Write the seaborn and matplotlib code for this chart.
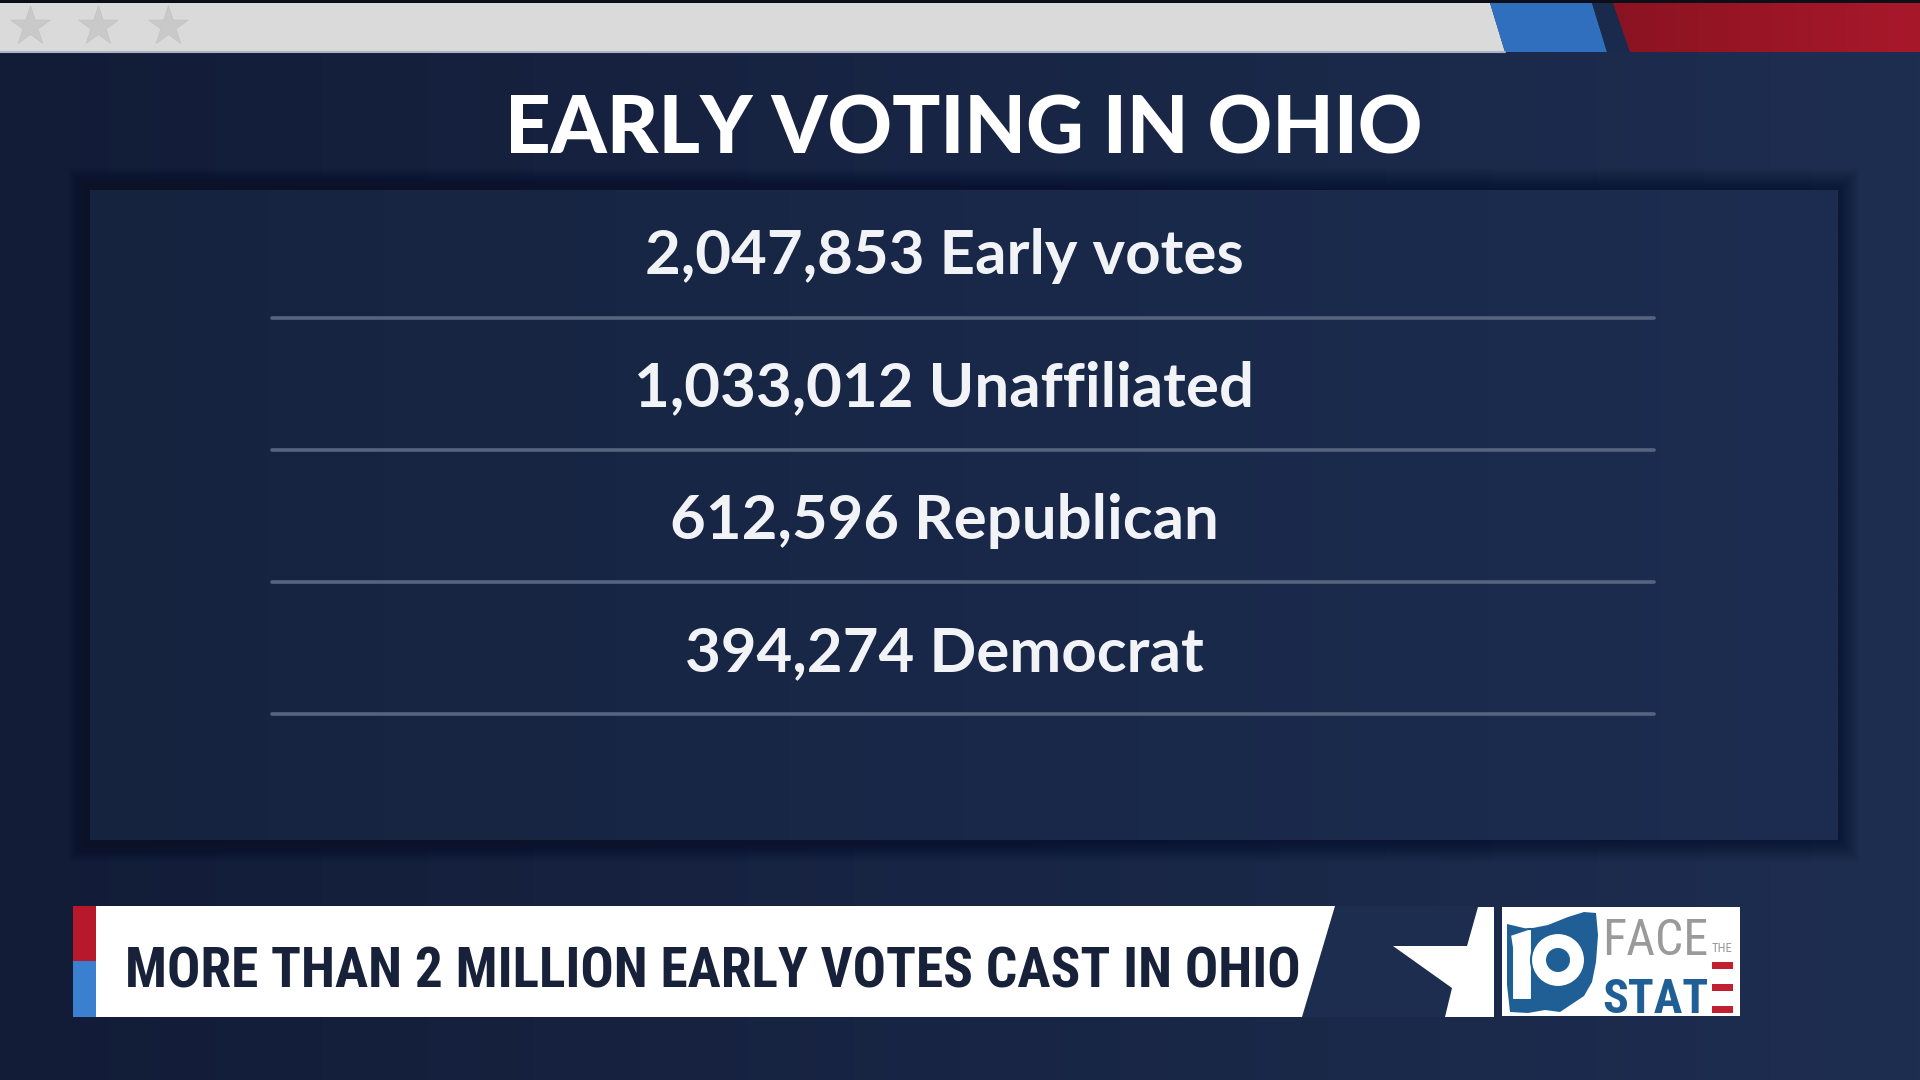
import numpy as np
import matplotlib
matplotlib.use("Agg")
import matplotlib.pyplot as plt
import seaborn as sns
from matplotlib.patches import Polygon, Rectangle, Circle

# ---------------------------- data ----------------------------
title = "EARLY VOTING IN OHIO"
counts = [2047853, 1033012, 612596, 394274]
groups = ["Early votes", "Unaffiliated", "Republican", "Democrat"]
headline = "MORE THAN 2 MILLION EARLY VOTES CAST IN OHIO"

sns.set_theme(style="white")
plt.rcParams['font.family'] = ['Lato', 'DejaVu Sans']

W, H = 1920, 1080
fig = plt.figure(figsize=(19.2, 10.8), dpi=100)
ax = fig.add_axes([0, 0, 1, 1])
ax.set_xlim(0, W)
ax.set_ylim(H, 0)
ax.axis('off')
renderer = fig.canvas.get_renderer()


def hex2rgb(h):
    h = h.lstrip('#')
    return np.array([int(h[i:i + 2], 16) / 255 for i in (0, 2, 4)])


def grad_image(extent, c1, c2, nx=400, ny=4, clip=None, z=1):
    t = np.linspace(0, 1, nx)[None, :, None]
    img = hex2rgb(c1) * (1 - t) + hex2rgb(c2) * t
    img = np.repeat(img, ny, axis=0)
    im = ax.imshow(img, extent=extent, aspect='auto', zorder=z, interpolation='bilinear')
    if clip is not None:
        im.set_clip_path(clip)
    return im


def fit(txt, width):
    bb = txt.get_window_extent(renderer)
    txt.set_fontsize(txt.get_fontsize() * width / bb.width)


# background: navy, darker on the left
grad_image([0, W, H, 0], '#121c37', '#1e2e51', z=0)

# panel with soft shadow
px0, py0, px1, py1 = 90, 190, 1838, 840
for k in range(22, 0, -1):
    ax.add_patch(Rectangle((px0 - k, py0 - k), px1 - px0 + 2 * k, py1 - py0 + 2 * k,
                           facecolor='#0b1228', alpha=0.03, edgecolor='none', zorder=1))
panel = Rectangle((px0, py0), px1 - px0, py1 - py0, facecolor='none', edgecolor='none', zorder=2)
ax.add_patch(panel)
grad_image([px0, px1, py1, py0], '#16233f', '#1c2d51', clip=panel, z=2)

# top bar
ax.add_patch(Rectangle((0, 0), W, 3, facecolor='#0c0f18', edgecolor='none', zorder=3))
ax.add_patch(Polygon([(0, 3), (1490, 3), (1505, 52), (0, 52)], closed=True,
                     facecolor='#dadada', edgecolor='none', zorder=3))
ax.plot([0, 1505], [52, 52], color='#aab4c6', lw=1.5, zorder=4)
ax.scatter([30, 98, 168], [26, 26, 26], marker='*', s=900, color='#c9c9c9',
           edgecolors='#c3c3c3', linewidths=0.5, zorder=4)
ax.add_patch(Polygon([(1490, 3), (1592, 3), (1607, 52), (1505, 52)], closed=True,
                     facecolor='#2f6fbd', edgecolor='none', zorder=3))
ax.add_patch(Polygon([(1592, 3), (1613, 3), (1630, 52), (1607, 52)], closed=True,
                     facecolor='#1a2a4c', edgecolor='none', zorder=3))
red = Polygon([(1613, 3), (W, 3), (W, 52), (1630, 52)], closed=True,
              facecolor='none', edgecolor='none', zorder=3)
ax.add_patch(red)
grad_image([1613, W, 52, 3], '#8b1321', '#a8182b', clip=red, z=3)

# title
t = ax.text(964, 153, title, ha='center', va='baseline', color='white',
            fontsize=56, fontweight='black', zorder=5)
fit(t, 917)

# rows
row_base = 274
row_step = 132.3
for i, (n, g) in enumerate(zip(counts, groups)):
    y = row_base + i * row_step
    rt = ax.text(944, y, f"{n:,} {g}", ha='center', va='baseline', color='#f2f3f6',
                 fontsize=40, fontweight='bold', zorder=5)
    if i == 0:
        fit(rt, 598)
        row_fs = rt.get_fontsize()
    else:
        rt.set_fontsize(row_fs)
    ax.plot([272, 1654], [y + 43.5, y + 43.5], color='#56647f', lw=2.6,
            solid_capstyle='round', zorder=5)

# lower third
cond = ['Roboto Condensed', 'Roboto', 'DejaVu Sans']
ax.add_patch(Rectangle((73, 906), 23, 55, facecolor='#b8182b', edgecolor='none', zorder=5))
ax.add_patch(Rectangle((73, 961), 23, 56, facecolor='#3a7fd0', edgecolor='none', zorder=5))
ax.add_patch(Polygon([(96, 906), (1335, 906), (1302, 1017), (96, 1017)], closed=True,
                     facecolor='white', edgecolor='none', zorder=5))
ax.add_patch(Polygon([(1335, 906), (1478, 906), (1445, 1017), (1302, 1017)], closed=True,
                     facecolor='#1d2d50', edgecolor='none', zorder=4))
ht = ax.text(125, 987, headline, ha='left', va='baseline', color='#18213a',
             family=cond, fontsize=46, fontweight='bold', zorder=6)
fit(ht, 1175)

# star wedge
ax.add_patch(Polygon([(1393, 946), (1467, 946), (1478, 907), (1494, 907), (1494, 1017),
                      (1445, 1017), (1452, 988)], closed=True,
                     facecolor='white', edgecolor='none', zorder=5))

# logo box
ax.add_patch(Rectangle((1502, 907), 238, 109, facecolor='white', edgecolor='none', zorder=5))
ohio = [(1507, 924), (1528, 929), (1548, 925), (1568, 917), (1584, 912), (1596, 913),
        (1598, 935), (1596, 962), (1592, 982), (1584, 996), (1572, 1004), (1560, 1012),
        (1545, 1010), (1528, 1013), (1510, 1012), (1507, 985)]
ax.add_patch(Polygon(ohio, closed=True, facecolor='#1f5f96', edgecolor='none', zorder=6))
ax.add_patch(Polygon([(1510, 935), (1528, 929), (1532, 929), (1532, 1000), (1512, 1000),
                      (1512, 948)], closed=True, facecolor='white',
                     edgecolor='#1f5f96', lw=1.5, zorder=7))
ax.add_patch(Circle((1558, 960), 27, facecolor='white', edgecolor='#1f5f96', lw=1.5, zorder=7))
ax.add_patch(Circle((1558, 960), 12, facecolor='#1f5f96', edgecolor='none', zorder=8))

ft = ax.text(1602, 955, "FACE", ha='left', va='baseline', color='#9a9a9a',
             family=cond, fontsize=30, zorder=7)
fit(ft, 106)
tt = ax.text(1712, 952, "THE", ha='left', va='baseline', color='#9a9a9a',
             family=cond, fontsize=10, zorder=7)
fit(tt, 21)
st = ax.text(1602, 1013, "STAT", ha='left', va='baseline', color='#1f5f96',
             family=cond, fontweight='bold', fontsize=40, zorder=7)
fit(st, 106)
for yb in (962, 984, 1006):
    ax.add_patch(Rectangle((1712, yb), 21, 7, facecolor='#c0202f', edgecolor='none', zorder=7))

fig.savefig("out.png", dpi=100)
